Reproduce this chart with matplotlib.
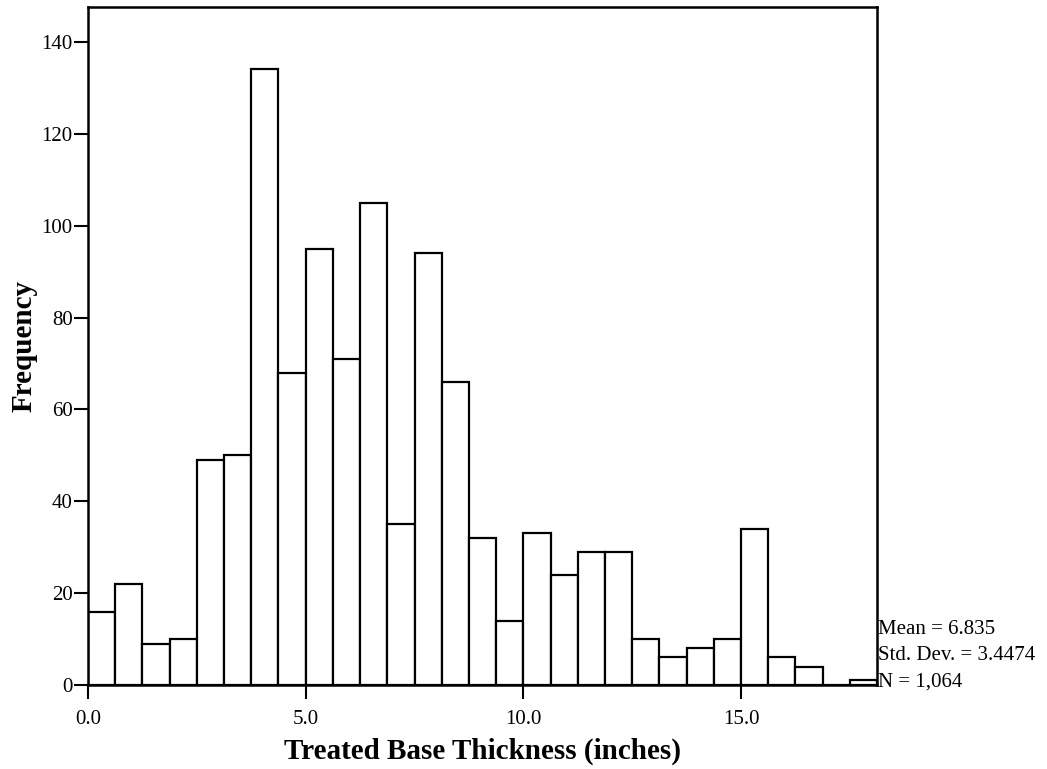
import matplotlib.pyplot as plt
import numpy as np

# histogram counts, bins of 0.625 inch starting at 0
counts = [16, 22, 9, 10, 49, 50, 134, 68, 95, 71, 105, 35, 94, 66, 32,
          14, 33, 24, 29, 29, 10, 6, 8, 10, 34, 6, 4, 0, 1]
bin_start = 0.0
bin_width = 0.625
x_ticks = [0.0, 5.0, 10.0, 15.0]
y_ticks = [0, 20, 40, 60, 80, 100, 120, 140]
stats = ["Mean = 6.835", "Std. Dev. = 3.4474", "N = 1,064"]

plt.rcParams['font.family'] = ['Liberation Serif', 'DejaVu Serif']

fig = plt.figure(figsize=(10.47, 7.69), dpi=100)
ax = fig.add_axes([0.0841, 0.1092, 0.7535, 0.8817])

edges = bin_start + bin_width * np.arange(len(counts))
ax.bar(edges, counts, width=bin_width, align='edge', color='white',
       edgecolor='black', linewidth=1.6)

ax.set_xlim(bin_start, bin_start + bin_width * len(counts))
ax.set_ylim(0, 147.6)
ax.set_xticks(x_ticks)
ax.set_xticklabels(["%.1f" % v for v in x_ticks])
ax.set_yticks(y_ticks)
ax.tick_params(axis='both', direction='out', length=10, width=1.5,
               labelsize=15, pad=1)
ax.tick_params(axis='x', pad=8)
for s in ax.spines.values():
    s.set_linewidth(1.8)

ax.set_xlabel("Treated Base Thickness (inches)", fontsize=21,
              fontweight='bold', labelpad=6)
ax.set_ylabel("Frequency", fontsize=21, fontweight='bold', labelpad=3)

for i, t in enumerate(stats):
    fig.text(0.839, 1 - (630 + 26 * i) / 769, t, fontsize=15,
             ha='left', va='center')

fig.savefig("out.png", dpi=100)
